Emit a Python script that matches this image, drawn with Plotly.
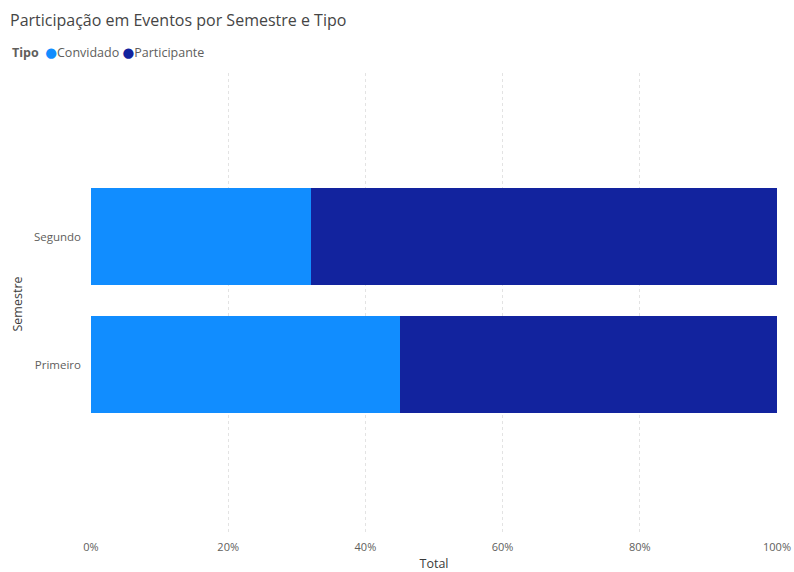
import plotly.graph_objects as go

# Share of participation per semester, split by type
semestres = ["Primeiro", "Segundo"]
tipos = ["Convidado", "Participante"]
convidado = [0.45, 0.32]
participante = [0.55, 0.68]
cores = ["#118DFF", "#12239E"]
ticks = [0, 0.2, 0.4, 0.6, 0.8, 1.0]
tick_labels = ["0%", "20%", "40%", "60%", "80%", "100%"]

FONT = "Segoe UI, Open Sans, DejaVu Sans, sans-serif"
GRAY = "#605E5C"

fig = go.Figure()
for nome, valores, cor in zip(tipos, [convidado, participante], cores):
    fig.add_trace(go.Bar(
        y=semestres, x=valores, name=nome, orientation="h",
        marker=dict(color=cor, line=dict(width=0)),
        showlegend=False,
    ))

legend_text = "<b>Tipo</b>  " + " ".join(
    f"<span style='color:{c};font-size:13.5px'>●</span>{n}" for n, c in zip(tipos, cores)
)

fig.update_layout(
    width=794, height=572,
    margin=dict(l=91, r=17, t=73, b=37),
    paper_bgcolor="white", plot_bgcolor="white",
    barmode="stack", bargap=0.24,
    font=dict(family=FONT, color=GRAY, size=11),
    title=dict(
        text="Participação em Eventos por Semestre e Tipo",
        x=10 / 794, xref="container", xanchor="left",
        y=1 - 20 / 572, yref="container", yanchor="middle",
        font=dict(size=16, color="#454545", family=FONT),
    ),
    annotations=[dict(
        text=legend_text, xref="paper", yref="paper",
        x=(10 - 91) / 686, y=1.0 + (73 - 52) / 462,
        xanchor="left", yanchor="middle", showarrow=False,
        font=dict(size=12.5, color=GRAY, family=FONT),
    )],
    xaxis=dict(
        range=[0, 1], tickvals=ticks, ticktext=tick_labels,
        showgrid=True, gridcolor="#E3E3E3", griddash="dot", gridwidth=1,
        zeroline=False, showline=False, ticks="", automargin=False,
        ticklabelstandoff=4,
        tickfont=dict(size=11, color=GRAY),
        title=dict(text="Total", font=dict(size=12.5, color="#3A3A3A"), standoff=10),
    ),
    yaxis=dict(
        range=[-1.33, 2.28], showgrid=False, zeroline=False, showline=False,
        ticks="", ticklabelstandoff=9, automargin=False,
        tickfont=dict(size=11.5, color=GRAY),
        title=dict(text="Semestre", font=dict(size=12.5, color="#3A3A3A"), standoff=8),
    ),
)

fig.write_html("out.html")
